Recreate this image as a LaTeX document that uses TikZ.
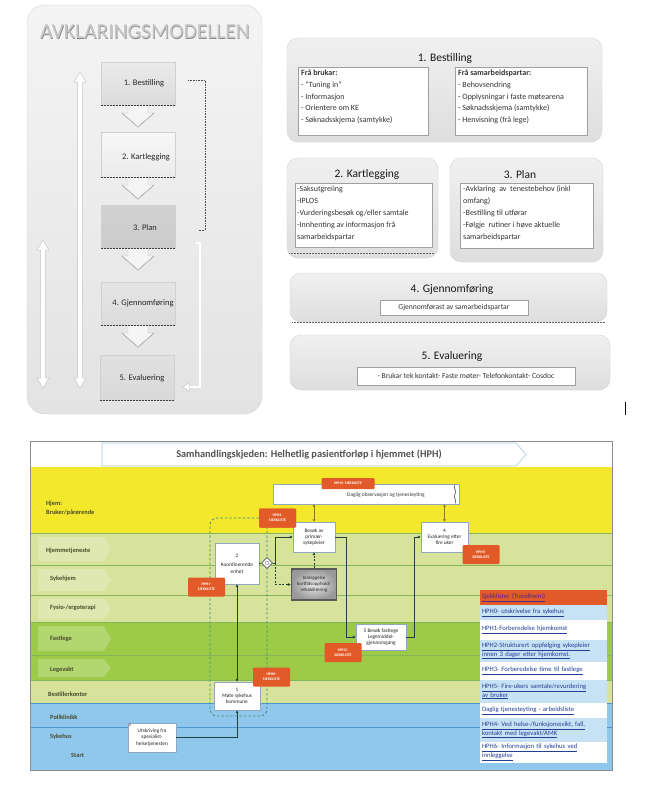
\documentclass[tikz,border=0pt]{standalone}
\usepackage{fontspec}
\setmainfont{Carlito}
\usetikzlibrary{shapes.geometric,arrows.meta,calc,shadows}
\newcommand{\ulk}[1]{\underline{#1}}
\definecolor{lpT}{HTML}{F4F4F4}
\definecolor{lpB}{HTML}{E3E3E3}
\definecolor{lpD}{HTML}{D4D4D4}
\definecolor{panelT}{HTML}{F0F0F0}
\definecolor{panelB}{HTML}{DEDEDE}
\definecolor{panelD}{HTML}{D2D2D2}
\definecolor{boxedge}{HTML}{D0D0D0}
\definecolor{inbox}{HTML}{A0A0A0}
\definecolor{sidec}{HTML}{C6C6C6}
\definecolor{yel}{HTML}{F3E82C}
\definecolor{lgr}{HTML}{D7E29B}
\definecolor{mgr}{HTML}{9DCB48}
\definecolor{blu}{HTML}{8FC8EC}
\definecolor{gline}{HTML}{86B65C}
\definecolor{bline}{HTML}{4E97CC}
\definecolor{orng}{HTML}{E25A28}
\definecolor{flowc}{HTML}{23403A}
\definecolor{olivec}{HTML}{8C7A10}
\definecolor{boundc}{HTML}{3C8E80}
\definecolor{lblc}{HTML}{4A4A2C}
\definecolor{lnk}{HTML}{243F95}
\definecolor{lrow}{HTML}{C8E2F5}
\definecolor{hdrc}{HTML}{A9CBE0}
\definecolor{fboxc}{HTML}{8FA8C0}
\definecolor{lhead}{HTML}{4B2C8C}
\begin{document}
\begin{tikzpicture}[x=1pt,y=-1pt,
  lbox/.style={minimum width=74pt,minimum height=43pt,inner sep=0pt,draw=boxedge,line width=0.3pt},
  lbtext/.style={font=\fontsize{8.5}{10}\selectfont,text=black!85,inner sep=0pt},
  panel/.style={rounded corners=11pt,draw=panelD,top color=panelT,bottom color=panelB,line width=0.4pt},
  ptitle/.style={font=\fontsize{11.5}{13}\selectfont,text=black!90,inner sep=0pt},
  inb/.style={draw=inbox,fill=white,line width=0.4pt,inner sep=0pt},
  intext/.style={font=\fontsize{8}{11.8}\selectfont,text=black!80,align=left,inner sep=0pt,anchor=north west},
  lanelbl/.style={font=\fontsize{6.4}{7}\selectfont\bfseries,text=lblc,anchor=west,inner sep=0pt},
  flowbox/.style={draw=fboxc,fill=white,line width=0.4pt,inner sep=0.5pt,align=center,font=\fontsize{5.3}{6.3}\selectfont,text=black!85,drop shadow={opacity=0.3,shadow xshift=0.8pt,shadow yshift=-0.8pt}},
  numl/.style={font=\fontsize{4.2}{4.5}\selectfont,inner sep=0.8pt,anchor=north west,text=black!80},
  tagst/.style={fill=orng,text=white,font=\fontsize{3.8}{4.6}\selectfont\bfseries,align=center,rounded corners=1pt,inner sep=0pt,minimum width=37pt,minimum height=19pt},
  flow/.style={draw=flowc,line width=0.8pt},
  flowd/.style={draw=flowc,line width=0.8pt,dash pattern=on 2pt off 1.5pt},
  arr/.style={-{Latex[length=3pt,width=3pt]}},
  olarr/.style={draw=olivec,line width=0.9pt,{Latex[length=2.5pt,width=3pt]}-{Latex[length=2.5pt,width=3pt]}},
  bound/.style={draw=boundc,line width=0.8pt,dash pattern=on 2.5pt off 2pt},
  legrow/.style={text width=123pt,inner xsep=2pt,inner ysep=0pt,align=left,font=\fontsize{6.7}{8.6}\selectfont,text=lnk},
]
\useasboundingbox (0,0) rectangle (647,787);
\fill[white] (0,0) rectangle (647,787);

% ================= TOP LEFT: AVKLARINGSMODELLEN =================
\draw[top color=lpT,bottom color=lpB,draw=lpD,rounded corners=18pt,line width=0.4pt] (27,5) rectangle (262,414);
\node[font=\fontsize{21.5}{23}\selectfont,text=black!45,inner sep=0pt] (titlesh) at (145.6,32.6) {AVKLARINGSMODELLEN};
\node[font=\fontsize{21.5}{23}\selectfont,text=black!22,inner sep=0pt] (title) at (145,32) {AVKLARINGSMODELLEN};

% side double arrows
\draw[draw=sidec,fill=white,line width=0.5pt] (80,72) -- (86,82) -- (82.5,82) -- (82.5,378) -- (86,378) -- (80,388) -- (74,378) -- (77.5,378) -- (77.5,82) -- (74,82) -- cycle;
\draw[draw=sidec,fill=white,line width=0.5pt] (43,240) -- (49,250) -- (45.5,250) -- (45.5,378) -- (49,378) -- (43,388) -- (37,378) -- (40.5,378) -- (40.5,250) -- (37,250) -- cycle;
% right brackets
\draw[densely dotted,black!70,line width=0.6pt] (188,80) -| (205,230) -- (199,230);
\draw[double=white,double distance=1.6pt,draw=sidec,line width=0.5pt] (196,243) -| (200,387) -- (189,387);
\fill[white,draw=sidec,line width=0.5pt] (189,382.5) -- (183,387) -- (189,391.5) -- cycle;

% chevrons between boxes
\foreach \yy in {105,177,248,325}{
  \filldraw[fill=black!4,draw=black!25,line width=0.4pt] (128,\yy) -- (148,\yy) -- (148,\yy+8) -- (154,\yy+8) -- (138,\yy+22) -- (122,\yy+8) -- (128,\yy+8) -- cycle;
  \draw[densely dotted,black!70,line width=0.5pt] (122,\yy+8) -- (138,\yy+22) -- (154,\yy+8);
}

% model boxes
\node[lbox,top color=black!8,bottom color=black!14] (b1) at (138,83.5) {};
\node[lbox,minimum height=45pt,top color=black!3,bottom color=black!8] (b2) at (138,154.5) {};
\node[lbox,top color=black!18,bottom color=black!20] (b3) at (138,226.5) {};
\node[lbox,top color=black!10,bottom color=black!14] (b4) at (138,303.5) {};
\node[lbox,minimum height=45pt,top color=black!12,bottom color=black!15] (b5) at (137,377.5) {};
\foreach \b in {b1,b2,b3,b4,b5}{
  \draw[densely dotted,black!75,line width=0.5pt] (\b.south west) -- (\b.south east);
}
\node[lbtext] (t1) at (144,83) {1. Bestilling};
\node[lbtext] (t2) at (146,157) {2. Kartlegging};
\node[lbtext] (t3) at (145,228) {3. Plan};
\node[lbtext] (t4) at (143,303) {4. Gjennomføring};
\node[lbtext] (t5) at (142,378) {5. Evaluering};

% ================= TOP RIGHT PANELS =================
% 1. Bestilling
\draw[panel] (287,38) rectangle (602,142);
\node[ptitle] (p1t) at (445,58) {1. Bestilling};
\node[inb,anchor=north west,minimum width=130pt,minimum height=68pt] (p1a) at (298,67) {};
\node[inb,anchor=north west,minimum width=132pt,minimum height=68pt] (p1b) at (455,67) {};
\node[intext] (p1atx) at (301,69.5) {\textbf{Frå brukar:}\\- "Tuning in"\\- Informasjon\\- Orientere om KE\\- Søknadsskjema (samtykke)};
\node[intext] (p1btx) at (458,69.5) {\textbf{Frå samarbeidspartar:}\\- Behovsendring\\- Opplysningar i faste møtearena\\- Søknadsskjema (samtykke)\\- Henvisning (frå lege)};

% 2. Kartlegging
\draw[panel] (287,158) rectangle (438,258);
\draw[densely dotted,black!60,line width=0.5pt] (289,253) -- (434,253);
\node[ptitle] (p2t) at (367,174) {2. Kartlegging};
\node[inb,anchor=north west,minimum width=137pt,minimum height=64pt] (p2a) at (295,183) {};
\node[intext,font=\fontsize{8}{12}\selectfont] (p2tx) at (297,185.5) {-Saksutgreiing\\-IPLOS\\-Vurderingsbesøk og/eller samtale\\-Innhenting av informasjon frå\\samarbeidspartar};

% 3. Plan
\draw[panel] (450,158) rectangle (603,262);
\node[ptitle] (p3t) at (520,175) {3. Plan};
\node[inb,anchor=north west,minimum width=133pt,minimum height=65pt] (p3a) at (460,183) {};
\node[intext,font=\fontsize{8}{12}\selectfont] (p3tx) at (463,185.5) {-Avklaring\ \ av\ \ tenestebehov (inkl\\omfang)\\-Bestilling til utførar\\-Følgje\ \ rutiner i høve aktuelle\\samarbeidspartar};

% 4. Gjennomføring
\draw[panel] (290,273) rectangle (607,322);
\draw[densely dotted,black!60,line width=0.5pt] (292,322) -- (605,322);
\node[ptitle] (p4t) at (452,290) {4. Gjennomføring};
\node[inb,minimum width=148pt,minimum height=15pt,font=\fontsize{7.6}{9}\selectfont,text=black!80] (p4a) at (454,307.5) {Gjennomførast av samarbeidspartar};

% 5. Evaluering
\draw[panel] (290,335) rectangle (610,390);
\node[ptitle] (p5t) at (452,356) {5. Evaluering};
\node[inb,minimum width=218pt,minimum height=18pt,font=\fontsize{7.6}{9}\selectfont,text=black!80] (p5a) at (466,376) {- Brukar tek kontakt- Faste møter- Telefonkontakt- Cosdoc};

\draw[black,line width=0.6pt] (625,402) -- (625,415);

% ================= BOTTOM: SAMHANDLINGSKJEDEN =================
\fill[white] (30,441) rectangle (612,467);
\draw[hdrc,fill=white,line width=0.6pt] (102,443) -- (516,443) -- (526,454.5) -- (516,466) -- (102,466) -- cycle;
\node[font=\fontsize{10.3}{12}\selectfont\bfseries,text=black!68,inner sep=0pt] (hdr) at (309,455) {Samhandlingskjeden: Helhetlig pasientforløp i hjemmet (HPH)};

% lanes
\fill[yel] (30,467) rectangle (612,533);
\fill[lgr] (30,533) rectangle (612,622);
\fill[mgr] (30,622) rectangle (612,680);
\fill[lgr] (30,680) rectangle (612,703);
\fill[blu] (30,703) rectangle (612,770);
\foreach \yy in {533,565,595,622,655,680}{\draw[gline,line width=0.6pt] (30,\yy) -- (612,\yy);}
\foreach \yy in {703,727}{\draw[bline,line width=0.6pt] (30,\yy) -- (612,\yy);}
\draw[black!45,line width=0.6pt] (30,441) rectangle (612,770);

% faint label chevrons
\foreach \ya/\yb in {537/561,569/591,599/619,626/651,659/677}{
  \fill[white,opacity=0.22] (38,\ya) -- (104,\ya) -- (111,{(\ya+\yb)/2}) -- (104,\yb) -- (38,\yb) -- cycle;
}

% lane labels
\node[lanelbl] (lhjem) at (46,504) {Hjem:};
\node[lanelbl] (lbruk) at (46,513) {Bruker/pårørende};
\node[lanelbl] (lhjt) at (46,551) {Hjemmetjeneste};
\node[lanelbl] (lsyk) at (50,579) {Sykehjem};
\node[lanelbl] (lfys) at (50,608) {Fysio-/ergoterapi};
\node[lanelbl] (lfast) at (50,639) {Fastlege};
\node[lanelbl] (llege) at (50,670) {Legevakt};
\node[lanelbl] (lbest) at (48,694) {Bestillerkontor};
\node[lanelbl] (lpoli) at (50,717) {Poliklinikk};
\node[lanelbl] (lsh) at (50,737) {Sykehus};
\node[lanelbl] (lstart) at (71,755) {Start};

% legend
\node[legrow,fill=orng,minimum height=15pt,text=lhead] (lgh) at (543.5,597.5) {\ulk{Sjekklister (Trondheim)}};
\node[legrow,fill=lrow,minimum height=15pt] (lg0) at (543.5,612.5) {\ulk{HPH0- utskrivelse fra sykehus}};
\node[legrow,fill=white,minimum height=20pt] (lg1) at (543.5,630) {\ulk{HPH1-Forberedelse hjemkomst}};
\node[legrow,fill=lrow,minimum height=22pt] (lg2) at (543.5,651) {\ulk{HPH2-Strukturert oppfølging sykepleier}\\\ulk{innen 3 dager etter hjemkomst.}};
\node[legrow,fill=white,minimum height=18pt] (lg3) at (543.5,671) {\ulk{HPH3- Forberedelse time til fastlege}};
\node[legrow,fill=lrow,minimum height=23pt] (lg4) at (543.5,691.5) {\ulk{HPH5- Fire-ukers samtale/revurdering}\\\ulk{av bruker}};
\node[legrow,fill=white,minimum height=15pt] (lg5) at (543.5,710.5) {\ulk{Daglig tjenesteyting - arbeidsliste}};
\node[legrow,fill=lrow,minimum height=24pt] (lg6) at (543.5,730) {\ulk{HPH4- Ved helse-/funksjonssvikt, fall,}\\\ulk{kontakt med legevakt/AMK}};
\node[legrow,fill=white,minimum height=21pt] (lg7) at (543.5,752.5) {\ulk{HPH6- Informasjon til sykehus ved}\\\ulk{innleggelse}};

% flow boxes
\node[flowbox,minimum width=186pt,minimum height=20pt] (daglig) at (366,494) {};
\node[font=\fontsize{5.4}{6.5}\selectfont,text=black!80,inner sep=0pt] (dagtx) at (386,495) {Daglig observasjon og tjenesteyting};
\draw[black!80,line width=0.5pt] (455,484.5) .. controls (452,489) and (458,489.5) .. (455,494) .. controls (452,498.5) and (458,499) .. (455,503.5);

\node[flowbox,minimum width=42pt,minimum height=30pt] (besok) at (314,537) {Besøk av\\primær-\\sykepleier};
\node[numl] (n3) at (besok.north west) {3};
\node[draw=black!65,line width=1.3pt,inner color=black!8,outer color=black!40,minimum width=45pt,minimum height=31pt,inner sep=0.5pt,align=center,font=\fontsize{4.9}{5.9}\selectfont,text=black!85] (innl) at (314,584.5) {Innleggelse\\korttidsopphold/\\rehabilitering};
\node[numl] (n7) at (innl.north west) {7};
\node[flowbox,minimum width=44pt,minimum height=41pt] (koord) at (237,563.5) {2\\[3pt]Koordinerende\\enhet};
\node[diamond,draw=black!55,fill=white,minimum width=11pt,minimum height=11pt,inner sep=0pt,line width=0.6pt] (gw) at (267,563) {};
\node[flowbox,minimum width=47pt,minimum height=30pt] (eval) at (444.5,537) {4\\Evaluering etter\\fire uker};
\node[flowbox,minimum width=50pt,minimum height=26pt] (fastl) at (381,637) {5 Besøk fastlege\\Legemiddel-\\gjennomgang};
\node[flowbox,minimum width=46pt,minimum height=28pt] (mote) at (237,696) {1\\Møte sykehus\\kommune};
\node[flowbox,minimum width=48pt,minimum height=29pt] (utsk) at (152,737.5) {Utskriving fra\\spesialist-\\helsetjenesten};
\node[numl] (n0) at (utsk.north west) {0};

% boundary (dashed)
\node[tagst] (tg2) at (277.5,518) {HPH2-\\SJEKKLISTE};
\draw[bound,rounded corners=7pt] (tg2.west) -| (210,716) -| (tg2.south -| 267,0);

% connectors
\draw[flow,arr] (utsk.east) -| (mote.south);
\draw[flow,{Latex[length=3pt,width=3pt]}-{Latex[length=3pt,width=3pt]}] (koord.south) -- (mote.north);
\draw[flow] (koord.east) -- (gw.west);
\draw[flow,arr] (gw.east) -- ++(3,0) |- (besok.west);
\draw[flowd,arr] (gw.east) ++(3,0) |- (innl.west);
\draw[flowd,arr] (innl.north) -- (besok.south);
\draw[flow,arr] (besok.east) -- ++(11,0) |- (fastl.west);
\draw[flow,arr] (fastl.east) -- ++(8,0) |- (eval.west);
\draw[olarr] (besok.north) -- (besok.north |- daglig.south);
\draw[olarr] (eval.north) -- (eval.north |- daglig.south);

% gateway redrawn above lines
\node[diamond,draw=black!55,fill=white,minimum width=11pt,minimum height=11pt,inner sep=0pt,line width=0.6pt] (gw2) at (gw) {};
\draw[black!55,line width=0.35pt] (gw2.center) circle (2);

% tags
\node[tagst,minimum width=53pt,minimum height=11pt] (tg4) at (348,483.5) {HPH4- SJEKKLISTE};
\node[tagst] (tg2b) at (tg2) {HPH2-\\SJEKKLISTE};
\node[tagst] (tg1) at (206.5,587) {HPH1-\\SJEKKLISTE};
\node[tagst] (tg5) at (481,554.5) {HPH5-\\SJEKKLISTE};
\node[tagst] (tg3) at (343,652.5) {HPH3-\\SJEKKLISTE};
\node[tagst] (tg0) at (271.5,677) {HPH0-\\SJEKKLISTE};
\end{tikzpicture}
\end{document}
